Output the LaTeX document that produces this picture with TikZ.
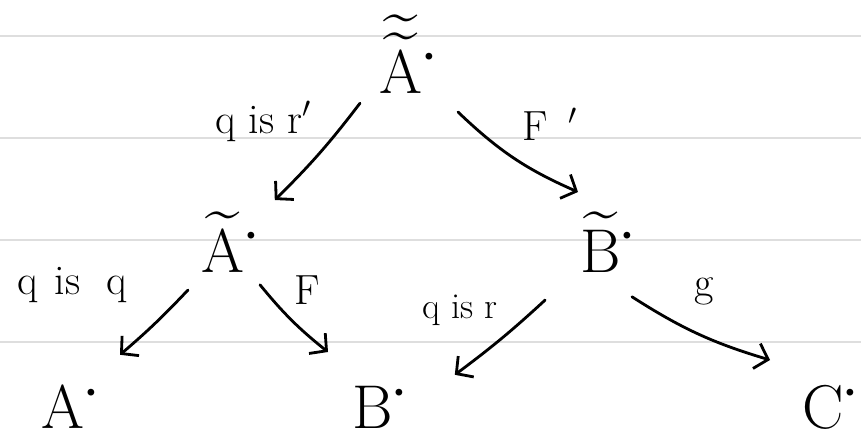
\RequirePackage{fix-cm}
\documentclass[tikz,border=0pt]{standalone}
\usepackage{amsmath,amssymb}
\usetikzlibrary{arrows.meta,calc}
\newcommand{\dotmark}{{\vphantom{\mathrm{A}}}^{\boldsymbol{\cdot}}}

\begin{document}
\begin{tikzpicture}[
    state/.style={font=\fontsize{44}{48}\selectfont, inner sep=1pt, anchor=base},
    tag/.style={font=\fontsize{30}{34}\selectfont, inner sep=1pt, anchor=base},
    hand/.style={-{Straight Barb[length=3mm,width=6.5mm]}, line width=2pt,
        line cap=round, line join=round},
    ruling/.style={draw=black!13, line width=1.3pt}
]
\useasboundingbox[fill=white] (0,0) rectangle (21.525,-10.875);
% ruled paper
\foreach \y in {-0.9,-3.45,-6.0,-8.55}
    \draw[ruling] (0,\y) -- (21.525,\y);
\node[state] (topA) at (10.2,-2.33) {$\widetilde{\widetilde{\mathrm{A}}}\dotmark$};
\node[state] (midA) at (5.75,-6.8) {$\widetilde{\mathrm{A}}\dotmark$};
\node[state] (midB) at (15.2,-6.8) {$\widetilde{\mathrm{B}}\dotmark$};
\node[state] (botA) at (1.75,-10.72) {$\mathrm{A}\dotmark$};
\node[state] (botB) at (9.5,-10.72) {$\mathrm{B}\dotmark$};
\node[state] (botC) at (20.75,-10.72) {$\mathrm{C}\dotmark$};
\node[tag] (qr') at (6.58,-3.33) {q is r$'$};
\node[tag] (F') at (13.75,-3.5) {F\hspace{0.5em}$'$};
\node[tag] (qq) at (1.8,-7.36) {q\hspace{0.1em} is\hspace{0.3em} q};
\node[tag] (F) at (7.68,-7.62) {F};
\node[tag, font=\fontsize{26}{30}\selectfont] (qr) at (11.5,-7.95) {q is r};
\node[tag] (g) at (17.6,-7.4) {g};
% arrows, ends offset from each letter's base point
\draw[hand] ($(topA.base)+(-1.2,-0.25)$) to[bend left=4]
    ($(midA.base)+(1.12,1.8)$);
\draw[hand] ($(topA.base)+(1.25,-0.47)$) to[bend right=10]
    ($(midB.base)+(-0.75,2.0)$);
\draw[hand] ($(midA.base)+(-1.05,-0.45)$) to[bend left=3]
    ($(botA.base)+(1.25,1.85)$);
\draw[hand] ($(midA.base)+(0.75,-0.32)$) to[bend right=6]
    ($(botB.base)+(-1.3,1.92)$);
\draw[hand] ($(midB.base)+(-1.57,-0.7)$) to[bend left=3]
    ($(botB.base)+(1.87,1.35)$);
\draw[hand] ($(midB.base)+(0.6,-0.62)$) to[bend right=8]
    ($(botC.base)+(-1.5,1.72)$);
\end{tikzpicture}
\end{document}
